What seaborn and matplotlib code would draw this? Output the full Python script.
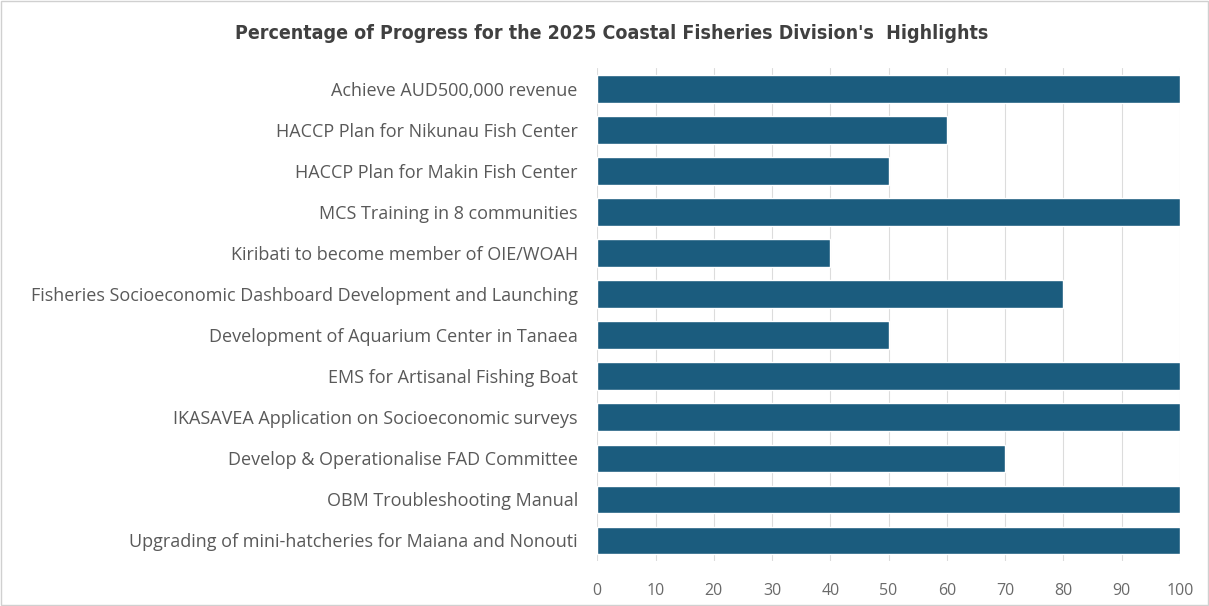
import matplotlib
matplotlib.use("Agg")
import matplotlib.pyplot as plt
import seaborn as sns
import pandas as pd
from matplotlib import font_manager

highlights = [
    "Achieve AUD500,000 revenue",
    "HACCP Plan for Nikunau Fish Center",
    "HACCP Plan for Makin Fish Center",
    "MCS Training in 8 communities",
    "Kiribati to become member of OIE/WOAH",
    "Fisheries Socioeconomic Dashboard Development and Launching",
    "Development of Aquarium Center in Tanaea",
    "EMS for Artisanal Fishing Boat",
    "IKASAVEA Application on Socioeconomic surveys",
    "Develop & Operationalise FAD Committee",
    "OBM Troubleshooting Manual",
    "Upgrading of mini-hatcheries for Maiana and Nonouti",
]
progress = [100, 60, 50, 100, 40, 80, 50, 100, 100, 70, 100, 100]
x_ticks = [0, 10, 20, 30, 40, 50, 60, 70, 80, 90, 100]

df = pd.DataFrame({"highlight": highlights, "progress": progress})

sns.set_theme(style="white")
plt.rcParams["font.family"] = ["Open Sans", "DejaVu Sans"]

fig = plt.figure(figsize=(12.09, 6.06), dpi=100)
ax = fig.add_axes([0.494, 0.075, 0.482, 0.812])

sns.barplot(data=df, y="highlight", x="progress", orient="h",
            color="#1b5c7e", saturation=1, width=0.66, ax=ax, zorder=3)

ax.set_xlim(0, 100)
ax.set_xticks(x_ticks)
ax.set_xticklabels([str(t) for t in x_ticks])
ax.grid(axis="x", color="#dcdcdc", linewidth=0.8, zorder=0)
ax.set_axisbelow(True)
for s in ax.spines.values():
    s.set_visible(False)
ax.set_xlabel("")
ax.set_ylabel("")
ax.tick_params(axis="y", length=0, pad=14, labelsize=13, labelcolor="#595959")
ax.tick_params(axis="x", length=0, pad=16, labelsize=11.5, labelcolor="#6a6a6a")

# condensed bold face for the title when one is available
installed = {f.name for f in font_manager.fontManager.ttflist}
title_family = "Liberation Sans Narrow" if "Liberation Sans Narrow" in installed else "DejaVu Sans"
title = fig.text(0.506, 0.945,
                 "Percentage of Progress for the 2025 Coastal Fisheries Division's  Highlights",
                 ha="center", va="center", fontsize=14, fontweight="bold", color="#404040",
                 family=title_family, fontstretch="condensed")

# squeeze the title to its intended width if the face is not condensed
fig.canvas.draw()
bb = title.get_window_extent()
target_w = 757
if bb.width > target_w:
    title.set_fontsize(14 * target_w / bb.width)

border = plt.Rectangle((0.001, 0.002), 0.998, 0.996, transform=fig.transFigure,
                       fill=False, edgecolor="#d0d0d0", linewidth=1)
fig.patches.append(border)

fig.savefig("out.png", dpi=100, facecolor="white")
